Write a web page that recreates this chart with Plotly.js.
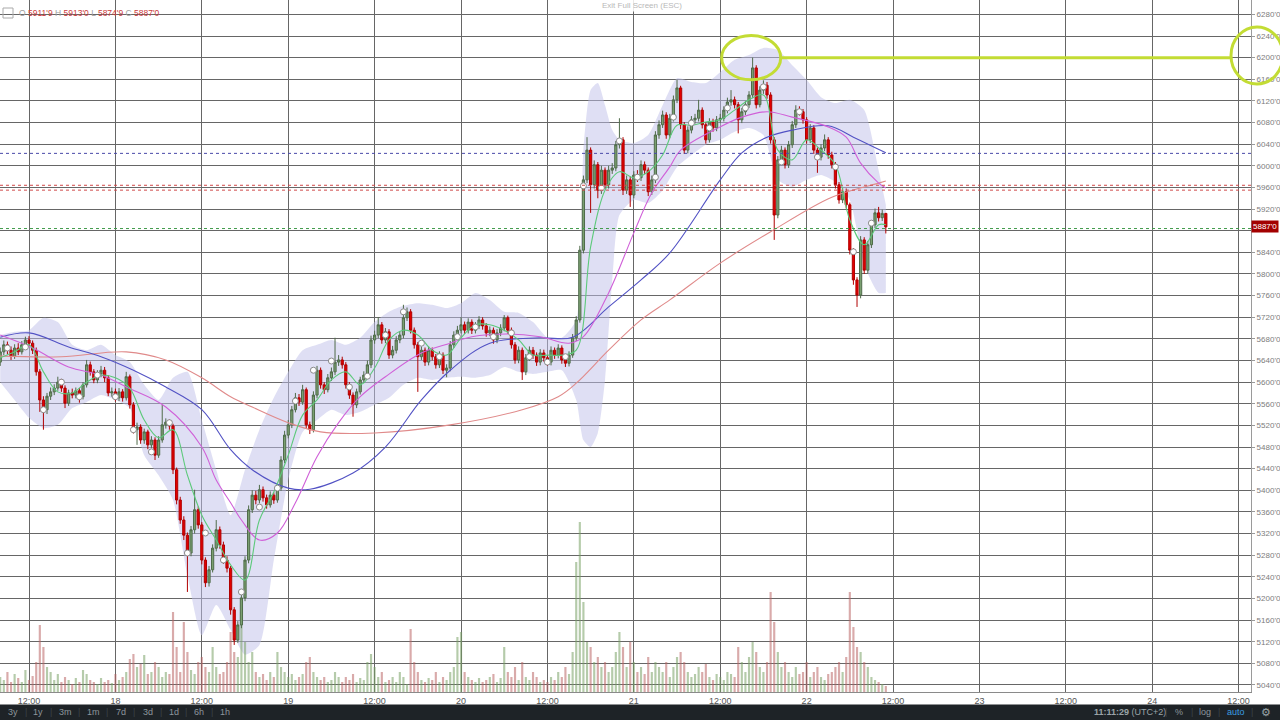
<!DOCTYPE html>
<html><head><meta charset="utf-8">
<script src="https://cdn.plot.ly/plotly-3.0.1.min.js"></script>
<style>html,body{margin:0;padding:0;background:#fff;overflow:hidden}#chart{width:1280px;height:720px}</style>
</head><body><div id="chart"></div>
<script>
// ---- time base: hours relative to 17th 12:00, 30-minute candles ----
const candleFirstHour = -4;
const candleStepHour = 0.5;

const openP = [
5637,5656,5669,5659,5648,5663,5656,5669,5678,5672,
5659,5619,5567,5549,5574,5582,5589,5600,5589,5561,
5580,5576,5584,5573,5595,5632,5619,5604,5615,5622,
5608,5580,5582,5571,5582,5571,5610,5558,5512,5517,
5493,5508,5484,5493,5465,5493,5521,5526,5519,5438,
5382,5345,5317,5284,5327,5364,5336,5271,5229,5253,
5293,5327,5299,5271,5256,5179,5123,5151,5201,5271,
5364,5391,5382,5401,5386,5373,5391,5382,5404,5456,
5502,5521,5549,5571,5563,5586,5521,5512,5576,5622,
5595,5586,5608,5619,5637,5641,5632,5595,5576,5558,
5582,5604,5613,5632,5678,5687,5706,5678,5693,5650,
5659,5678,5687,5719,5730,5696,5669,5647,5659,5637,
5659,5647,5632,5650,5622,5626,5669,5687,5696,5706,
5696,5711,5696,5704,5715,5704,5691,5696,5678,5691,
5700,5719,5696,5669,5641,5659,5619,5645,5659,5650,
5637,5654,5645,5637,5659,5650,5663,5641,5635,5650,
5682,5715,5844,5974,6029,5965,6002,5955,5992,5965,
5992,5996,6039,6048,5955,5974,5946,5983,5978,6002,
5992,5952,5974,6057,6076,6094,6057,6088,6122,6144,
6076,6029,6066,6085,6088,6103,6076,6048,6081,6070,
6085,6088,6103,6118,6122,6113,6085,6100,6113,6131,
6181,6113,6140,6149,6131,6048,5909,6011,6029,6002,
6039,6076,6103,6100,6085,6048,6070,6029,6016,6033,
6048,6020,6002,5965,5937,5952,5928,5844,5789,5761,
5863,5807,5854,5891,5913,5904,5911.9];

const highP = [
5664,5677,5675,5666,5670,5672,5676,5684,5685,5677,
5664,5624,5574,5580,5590,5596,5610,5606,5594,5586,
5588,5590,5589,5600,5641,5638,5624,5622,5630,5628,
5613,5590,5588,5589,5587,5619,5614,5563,5525,5522,
5514,5512,5500,5498,5500,5558,5533,5531,5523,5442,
5388,5352,5322,5334,5401,5370,5341,5276,5260,5300,
5345,5333,5305,5278,5260,5184,5158,5208,5278,5372,
5400,5399,5410,5407,5392,5398,5396,5412,5463,5510,
5530,5556,5580,5578,5595,5590,5527,5583,5630,5627,
5600,5615,5627,5682,5650,5647,5637,5600,5581,5588,
5610,5620,5640,5686,5695,5720,5711,5700,5698,5667,
5685,5694,5743,5738,5735,5701,5674,5666,5664,5666,
5664,5652,5657,5655,5633,5676,5694,5704,5720,5712,
5718,5716,5711,5722,5720,5709,5703,5701,5698,5707,
5724,5723,5701,5674,5666,5664,5652,5666,5665,5655,
5661,5660,5650,5666,5664,5670,5668,5647,5657,5689,
5722,5852,5982,6053,6034,6010,6007,6000,5997,6000,
6005,6046,6088,6053,5982,5980,5990,5992,6010,6008,
5997,5982,6064,6084,6102,6099,6096,6130,6159,6148,
6081,6073,6092,6096,6122,6108,6081,6088,6087,6092,
6096,6110,6126,6140,6128,6118,6107,6120,6138,6200,
6186,6147,6158,6155,6136,6053,6018,6037,6034,6046,
6083,6112,6110,6105,6090,6077,6075,6034,6040,6058,
6053,6026,6007,5970,5959,5958,5932,5848,5794,5870,
5868,5861,5898,5921,5924,5919,5913];

const lowP = [
5630,5650,5652,5641,5643,5650,5651,5664,5666,5652,
5612,5545,5512,5541,5567,5576,5584,5582,5552,5556,
5570,5570,5562,5568,5590,5612,5598,5598,5609,5600,
5574,5573,5564,5565,5564,5566,5551,5505,5484,5486,
5486,5476,5478,5456,5460,5488,5514,5512,5430,5374,
5338,5308,5212,5278,5320,5329,5263,5221,5222,5248,
5287,5292,5264,5248,5170,5114,5118,5145,5195,5265,
5358,5374,5376,5379,5366,5368,5375,5377,5399,5450,
5496,5515,5544,5556,5558,5514,5504,5507,5570,5588,
5578,5581,5602,5613,5630,5625,5588,5569,5536,5552,
5577,5598,5607,5626,5671,5681,5671,5672,5643,5644,
5653,5672,5681,5713,5690,5662,5582,5641,5630,5631,
5640,5625,5626,5615,5609,5620,5663,5681,5690,5689,
5690,5689,5690,5698,5697,5684,5685,5671,5672,5685,
5694,5689,5662,5634,5635,5604,5613,5639,5643,5630,
5631,5638,5630,5631,5643,5644,5634,5628,5629,5645,
5676,5710,5838,5968,5913,5958,5940,5948,5957,5958,
5985,5990,6032,5946,5948,5924,5940,5970,5972,5985,
5944,5946,5968,6050,6070,6050,6051,6082,6116,6068,
6022,6023,6060,6078,6082,6069,6041,6043,6063,6064,
6079,6082,6097,6111,6106,6060,6079,6094,6107,6125,
6106,6108,6133,6124,6041,5863,5903,6004,5995,5996,
6033,6070,6093,6078,6041,6042,6022,5987,6010,6027,
6013,5995,5958,5930,5931,5921,5836,5780,5739,5755,
5800,5801,5848,5885,5897,5898,5874.9];

const closeP = [
5656,5669,5659,5648,5663,5656,5669,5678,5672,5659,
5619,5567,5549,5574,5582,5589,5600,5589,5561,5580,
5576,5584,5573,5595,5632,5619,5604,5615,5622,5608,
5580,5582,5571,5582,5571,5610,5558,5512,5517,5493,
5508,5484,5493,5465,5493,5521,5526,5519,5438,5382,
5345,5317,5284,5327,5364,5336,5271,5229,5253,5293,
5327,5299,5271,5256,5179,5123,5151,5201,5271,5364,
5391,5382,5401,5386,5373,5391,5382,5404,5456,5502,
5521,5549,5571,5563,5586,5521,5512,5576,5622,5595,
5586,5608,5619,5637,5641,5632,5595,5576,5558,5582,
5604,5613,5632,5678,5687,5706,5678,5693,5650,5659,
5678,5687,5719,5730,5696,5669,5647,5659,5637,5659,
5647,5632,5650,5622,5626,5669,5687,5696,5706,5696,
5711,5696,5704,5715,5704,5691,5696,5678,5691,5700,
5719,5696,5669,5641,5659,5619,5645,5659,5650,5637,
5654,5645,5637,5659,5650,5663,5641,5635,5650,5682,
5715,5844,5974,6029,5965,6002,5955,5992,5965,5992,
5996,6039,6048,5955,5974,5946,5983,5978,6002,5992,
5952,5974,6057,6076,6094,6057,6088,6122,6144,6076,
6029,6066,6085,6088,6103,6076,6048,6081,6070,6085,
6088,6103,6118,6122,6113,6085,6100,6113,6131,6181,
6113,6140,6149,6131,6048,5909,6011,6029,6002,6039,
6076,6103,6100,6085,6048,6070,6029,6016,6033,6048,
6020,6002,5965,5937,5952,5928,5844,5789,5761,5863,
5807,5854,5891,5913,5904,5912,5887];

const volume = [
15,12,20,10,18,14,10,22,12,16,
30,67,45,25,20,12,18,10,15,12,
8,14,10,22,18,12,10,8,14,10,
12,9,18,12,15,20,33,38,25,28,
37,18,20,30,25,15,20,18,80,45,
20,70,40,22,18,30,35,25,20,45,
25,18,20,30,60,40,35,80,50,30,
40,20,15,18,12,20,15,40,25,20,
15,18,12,15,18,30,35,20,15,12,
15,10,12,20,15,10,15,12,18,10,
14,12,30,38,25,15,20,10,12,15,
10,20,15,8,63,30,20,12,10,14,
12,20,10,15,12,20,25,55,60,20,
15,12,10,14,10,12,15,18,10,14,
45,20,15,25,12,30,15,12,20,15,
10,12,10,15,12,20,15,25,18,40,
130,170,90,50,45,30,35,25,30,20,
25,40,60,45,25,50,30,20,25,18,
35,20,30,25,20,30,15,25,35,40,
30,20,15,18,25,20,28,15,12,18,
15,12,20,18,15,45,30,20,35,50,
40,25,20,30,100,70,40,25,30,20,
15,25,18,20,30,15,20,25,15,12,
18,20,25,30,20,35,100,65,45,40,
30,25,15,12,10,8,6];

// fast MA (green)
const maFastH = [-4,-2,0,2,4,6,8,10,12,14,16,18,20,22,24,26,28,30,32,34,36,38,40,42,44,46,48,50,52,54,56,58,60,62,64,66,68,70,72,74,76,78,80,82,84,86,88,90,92,94,96,98,100,102,104,106,108,110,112,114,116,118,119];
const maFast = [5645,5656,5669,5619,5582,5580,5600,5613,5608,5589,5530,5497,5512,5428,5354,5308,5262,5234,5345,5397,5465,5539,5567,5604,5619,5595,5626,5678,5696,5687,5659,5650,5682,5706,5706,5696,5678,5650,5650,5650,5659,5850,5955,5989,5978,5989,6020,6075,6075,6081,6085,6103,6122,6131,6029,6011,6048,6029,6002,5900,5854,5891,5891];
// medium MA (magenta)
const maMidH = [-4,0.5,5.5,10,13.5,19,24,26,28,29.5,32,34.5,37,40,43,46,49.5,54.5,58.5,61.5,66.5,71,75,77,80.5,84,86.5,89,90.5,96,99,102.5,106,111,113.5,115.5,118,119];
const maMid = [5687,5663,5628,5613,5591,5554,5480,5419,5377,5345,5308,5321,5377,5462,5525,5573,5610,5654,5672,5684,5689,5684,5672,5684,5765,5876,5950,5998,6029,6072,6090,6100,6090,6072,6053,6005,5968,5959];
// slow MA (blue)
const maSlowH = [-4,0,5.5,10,14.5,19,24,28,31,36,39,45,49.5,54.5,58.5,64,71,75.5,80.5,85,89,96,99,102.5,106,111,114.5,119];
const maSlow = [5683,5691,5665,5647,5622,5591,5549,5475,5438,5404,5402,5432,5480,5567,5622,5672,5682,5683,5739,5789,5839,5974,6024,6053,6066,6074,6053,6024];
// long MA (salmon)
const maLongH = [-4,4.5,13.5,19,24,28,31,36,40.5,48,58.5,68.5,73.5,76,80.5,85,89,96,103,111.5,118,119];
const maLong = [5648,5647,5656,5641,5608,5573,5554,5525,5508,5506,5521,5549,5573,5598,5659,5715,5752,5820,5878,5942,5968,5972];

// shaded envelope
const bandH = [-4,-2,0,2,4,6,8,10,12,14,16,18,20,22,24,26,28,30,32,34,36,38,40,42,44,46,48,50,52,54,56,58,60,62,64,66,68,70,72,74,76,77,78,79,80,81,82,84,86,88,90,92,94,96,98,100,102,104,106,108,110,112,114,116,118,119];
const bandUpper = [5687,5693,5696,5719,5711,5669,5659,5669,5650,5637,5595,5567,5608,5619,5530,5438,5354,5438,5512,5571,5619,5659,5669,5678,5669,5682,5711,5730,5741,5746,5743,5737,5746,5765,5752,5730,5728,5711,5682,5682,5715,6029,6140,6153,6112,6066,6048,6042,6057,6112,6162,6155,6153,6173,6196,6205,6218,6214,6186,6159,6127,6116,6122,6103,5992,5928];
const bandLower = [5600,5567,5534,5515,5521,5552,5563,5576,5567,5552,5465,5428,5382,5243,5132,5188,5142,5096,5114,5271,5419,5508,5530,5549,5539,5545,5558,5571,5595,5608,5604,5608,5610,5608,5613,5628,5619,5615,5619,5622,5567,5493,5480,5506,5604,5789,5909,5937,5931,5955,5998,6020,6039,6048,6063,6070,6057,5974,5961,5974,5983,5970,5937,5817,5765,5765];

// pivot circles
const markerH = [-3,-0.5,2,4.5,7,9.5,12,14.5,17,19.5,22,24.5,27,29.5,32,34.5,37,39.5,42,44.5,47,49.5,52,54.5,57,59.5,62,64.5,67,69.5,72,74.5,77,79.5,82,84.5,87,89.5,92,94.5,97,99.5,102,104.5,107,109.5,112,114.5,117];
const markerP = [5663,5665,5549,5600,5573,5613,5573,5512,5471,5525,5284,5321,5271,5212,5369,5404,5565,5622,5639,5591,5611,5687,5730,5672,5647,5684,5702,5684,5691,5647,5637,5647,5963,5959,6046,5979,5979,6090,6079,6070,6107,6107,6146,6007,6100,6016,5998,5841,5894];

// axis ticks
const xTickH = [0,12,24,36,48,60,72,84,96,108,120,132,144,156,168];
const xTickText = ['12:00','18','12:00','19','12:00','20','12:00','21','12:00','22','12:00','23','12:00','24','12:00'];
const yTickVals = [5040,5080,5120,5160,5200,5240,5280,5320,5360,5400,5440,5480,5520,5560,5600,5640,5680,5720,5760,5800,5840,5880,5920,5960,6000,6040,6080,6120,6160,6200,6240,6280];
const hiddenTick = 5880; // covered by the last-price badge in the reference
const yTickText = yTickVals.map(v => v === hiddenTick ? '' : v + "'0");

// reference levels
const lastPrice = 5887;
const lastPriceText = "5887'0";
const resistance = 6200;
const redLevels = [5964, 5955];
const blueLevels = [6023];
const greenLevel = 5884;
const ohlcLabel = {o:"5911'9", h:"5913'0", l:"5874'9", c:"5887'0"};

// ---- build ----
const BASE = Date.UTC(2018,5,17,12,0,0);
const HOUR = 3600000;
const t = h => BASE + h*HOUR;
const candleX = closeP.map((_, i) => t(candleFirstHour + i*candleStepHour));
const Y_RANGE = [5027, 6306.6];

const FONT = 'Liberation Sans, Arial, sans-serif';
const traces = [];
// band on the base axis (drawn first, underneath)
traces.push({type:'scatter', mode:'lines', x:bandH.map(t), y:bandLower, line:{width:0, color:'rgba(0,0,0,0)', shape:'spline', smoothing:0.6}, hoverinfo:'skip'});
traces.push({type:'scatter', mode:'lines', x:bandH.map(t), y:bandUpper, fill:'tonexty', fillcolor:'rgba(192,192,234,0.5)', line:{width:0, color:'rgba(0,0,0,0)', shape:'spline', smoothing:0.6}, hoverinfo:'skip'});
// volume on its own overlay
traces.push({type:'bar', x:candleX, y:volume, yaxis:'y2', width:0.6*1800000,
  marker:{color:closeP.map((c,i)=> c>=openP[i] ? 'rgba(120,160,100,0.55)' : 'rgba(185,100,100,0.55)'), line:{width:0}}, hoverinfo:'skip'});
// price overlay: MAs, candles, circles
traces.push({type:'scatter', mode:'lines', yaxis:'y3', x:maLongH.map(t), y:maLong, line:{color:'#e08a8a', width:1.1, shape:'spline'}, hoverinfo:'skip'});
traces.push({type:'scatter', mode:'lines', yaxis:'y3', x:maSlowH.map(t), y:maSlow, line:{color:'#5252c4', width:1.1, shape:'spline'}, hoverinfo:'skip'});
traces.push({type:'scatter', mode:'lines', yaxis:'y3', x:maMidH.map(t), y:maMid, line:{color:'#d060d8', width:1.1, shape:'spline'}, hoverinfo:'skip'});
traces.push({type:'scatter', mode:'lines', yaxis:'y3', x:maFastH.map(t), y:maFast, line:{color:'#5cc97a', width:1.1, shape:'spline'}, hoverinfo:'skip'});
traces.push({type:'candlestick', yaxis:'y3', x:candleX, open:openP, high:highP, low:lowP, close:closeP,
  increasing:{line:{color:'#4f6b49', width:1}, fillcolor:'#7a9f70'},
  decreasing:{line:{color:'#b00000', width:1}, fillcolor:'#e20000'},
  whiskerwidth:0, hoverinfo:'skip'});
traces.push({type:'scatter', mode:'markers', yaxis:'y3', x:markerH.map(t), y:markerP,
  marker:{symbol:'circle', size:6, color:'#ffffff', line:{color:'#8a8a8a', width:1}}, hoverinfo:'skip'});

const PW = 1251, PH = 692;
const px = x => x/PW, py = y => (PH - y)/PH;

const shapes = [];
redLevels.forEach(v => shapes.push({type:'line', xref:'paper', x0:0, x1:1, yref:'y', y0:v, y1:v, line:{color:'#d04848', width:1, dash:'dot'}}));
blueLevels.forEach(v => shapes.push({type:'line', xref:'paper', x0:0, x1:1, yref:'y', y0:v, y1:v, line:{color:'#4848a8', width:1, dash:'dot'}}));
shapes.push({type:'line', xref:'paper', x0:0, x1:1, yref:'y', y0:greenLevel, y1:greenLevel, line:{color:'#3f9a4a', width:1, dash:'dot'}});
shapes.push({type:'line', xref:'x', x0:t(104.4), x1:t(166.8), yref:'y', y0:resistance, y1:resistance, line:{color:'#c3dc34', width:3}});
shapes.push({type:'circle', xref:'x', x0:t(96.2), x1:t(104.4), yref:'y', y0:6159, y1:6241, line:{color:'#c3dc34', width:3}});
shapes.push({type:'circle', xref:'paper', x0:px(1231), x1:px(1283), yref:'paper', y0:py(84), y1:py(27), line:{color:'#c3dc34', width:3}});
shapes.push({type:'rect', xref:'paper', x0:px(0), x1:px(1280), yref:'paper', y0:py(704.5), y1:py(721), fillcolor:'#1e2327', line:{width:0}});
shapes.push({type:'rect', xref:'paper', x0:px(3), x1:px(13), yref:'paper', y0:py(18), y1:py(8), fillcolor:'rgba(0,0,0,0)', line:{color:'#aaa', width:1}});

const annotations = [];
const red = s => `<span style="color:#cc3b3b">${s}</span>`;
annotations.push({xref:'paper', yref:'paper', x:px(17), y:py(13), xanchor:'left', yanchor:'middle', showarrow:false,
  text:`O ${red(ohlcLabel.o)} H ${red(ohlcLabel.h)} L ${red(ohlcLabel.l)} C ${red(ohlcLabel.c)}`, font:{family:FONT, size:8.5, color:'#a0a0a0'}});
annotations.push({xref:'paper', yref:'paper', x:px(642), y:py(6), xanchor:'center', yanchor:'middle', showarrow:false,
  text:'Exit Full Screen (ESC)', font:{family:FONT, size:8, color:'#b8b8b8'}, bgcolor:'rgba(255,255,255,0.85)', borderpad:1});
annotations.push({xref:'paper', yref:'y', x:1, y:lastPrice, xanchor:'left', yanchor:'middle', showarrow:false,
  text:lastPriceText, font:{family:FONT, size:8, color:'#ffffff'}, bgcolor:'#a30000', borderpad:1});
const tbY = py(712.5);
const leftItems = [['3y',13],['1y',38],['3m',65],['1m',93],['7d',121],['3d',148],['1d',174],['6h',199],['1h',225]];
leftItems.forEach(([s,x]) => annotations.push({xref:'paper', yref:'paper', x:px(x), y:tbY, xanchor:'center', yanchor:'middle', showarrow:false, text:s, font:{family:FONT, size:9, color:'#8d969c'}}));
[26,51,79,107,134,161,186,212].forEach(x => annotations.push({xref:'paper', yref:'paper', x:px(x), y:tbY, xanchor:'center', yanchor:'middle', showarrow:false, text:'|', font:{family:FONT, size:9, color:'#3b4247'}}));
const rightItems = [['<b>11:11:29</b> (UTC+2)',1130,'#9aa3a8'],['%',1179,'#8d969c'],['log',1205,'#8d969c'],['auto',1236,'#3b9de0'],['⚙',1266,'#9aa3a8']];
rightItems.forEach(([s,x,c]) => annotations.push({xref:'paper', yref:'paper', x:px(x), y:tbY, xanchor:'center', yanchor:'middle', showarrow:false, text:s, font:{family:FONT, size:s==='⚙'?11:9, color:c}}));
[1166,1192,1219,1252].forEach(x => annotations.push({xref:'paper', yref:'paper', x:px(x), y:tbY, xanchor:'center', yanchor:'middle', showarrow:false, text:'|', font:{family:FONT, size:9, color:'#3b4247'}}));

const layout = {
  width:1280, height:720, margin:{l:0, r:29, t:0, b:28, pad:0},
  paper_bgcolor:'#ffffff', plot_bgcolor:'#ffffff', showlegend:false,
  font:{family:FONT}, boxgap:0.12,
  xaxis:{type:'date', range:[t(-4.03), t(169.72)], tickmode:'array', tickvals:xTickH.map(t), ticktext:xTickText,
    showgrid:true, gridcolor:'#666666', gridwidth:1, showline:true, linecolor:'#8a8a8a', linewidth:1,
    ticks:'', tickfont:{family:FONT, size:9, color:'#555'}, rangeslider:{visible:false}, zeroline:false, fixedrange:true},
  yaxis:{range:Y_RANGE, side:'right', tickmode:'array', tickvals:yTickVals, ticktext:yTickText,
    showgrid:true, gridcolor:'#666666', gridwidth:1, showline:true, linecolor:'#9a9a9a', linewidth:1,
    ticks:'outside', ticklen:3, tickcolor:'#9a9a9a', tickfont:{family:FONT, size:8, color:'#7c7c7c'}, zeroline:false, fixedrange:true},
  yaxis2:{overlaying:'y', range:[0, 692], visible:false, fixedrange:true, showgrid:false, zeroline:false},
  yaxis3:{overlaying:'y', range:Y_RANGE, visible:false, fixedrange:true, showgrid:false, zeroline:false},
  shapes:shapes, annotations:annotations
};
Plotly.newPlot('chart', traces, layout, {displayModeBar:false, staticPlot:true});
</script></body></html>
